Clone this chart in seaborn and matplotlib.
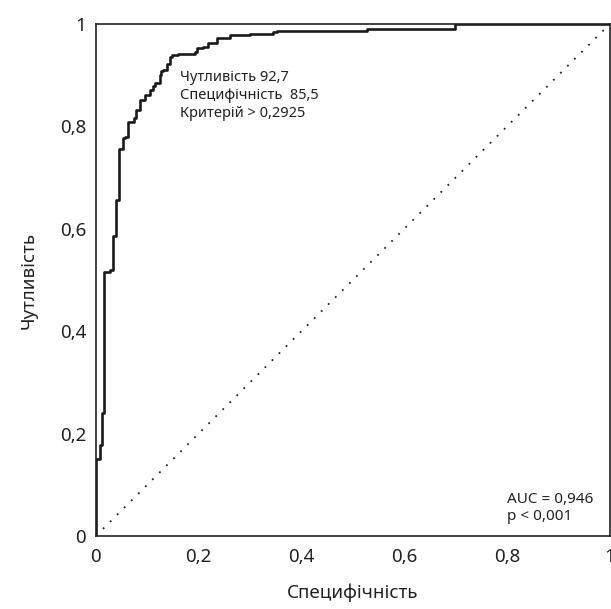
import matplotlib
matplotlib.use("Agg")
import matplotlib.pyplot as plt
import seaborn as sns
import pandas as pd

# ROC curve (x = 1 - specificity, y = sensitivity)
fpr = [0.000, 0.000, 0.008, 0.008, 0.012, 0.012, 0.016, 0.016, 0.027, 0.033,
       0.035, 0.039, 0.040, 0.045, 0.045, 0.053, 0.056, 0.062, 0.062, 0.074,
       0.078, 0.078, 0.086, 0.086, 0.095, 0.105, 0.111, 0.115, 0.125, 0.126,
       0.130, 0.138, 0.144, 0.148, 0.160, 0.193, 0.196, 0.208, 0.218, 0.235,
       0.261, 0.300, 0.344, 0.352, 0.527, 0.531, 0.698, 0.708, 1.000]
tpr = [0.000, 0.150, 0.150, 0.178, 0.178, 0.240, 0.240, 0.512, 0.516, 0.520,
       0.586, 0.586, 0.652, 0.656, 0.750, 0.756, 0.777, 0.779, 0.789, 0.809,
       0.816, 0.826, 0.832, 0.842, 0.852, 0.861, 0.871, 0.879, 0.885, 0.900,
       0.908, 0.910, 0.922, 0.936, 0.939, 0.941, 0.945, 0.953, 0.955, 0.963,
       0.973, 0.979, 0.980, 0.984, 0.986, 0.990, 0.990, 1.000, 1.000]

ticks = [0, 0.2, 0.4, 0.6, 0.8, 1]
tick_labels = ["0", "0,2", "0,4", "0,6", "0,8", "1"]

cut_lines = ["Чутливість 92,7", "Специфічність  85,5", "Критерій > 0,2925"]
auc_lines = ["AUC = 0,946", "p < 0,001"]

sns.set_theme(style="white")
plt.rcParams['font.family'] = ['Noto Sans', 'DejaVu Sans']

fig = plt.figure(figsize=(6.11, 6.09), dpi=100)
ax = fig.add_axes([0.157, 0.12, 0.841, 0.8406])

df = pd.DataFrame({"fpr": fpr, "tpr": tpr})
# ROC curve is a staircase: rise first, then run
sns.lineplot(data=df, x="fpr", y="tpr", sort=False, estimator=None,
             color="#1a1a1a", linewidth=1.9, drawstyle="steps-pre", ax=ax)
ax.plot([0, 1], [0, 1], color="#222222", linewidth=1.3,
        linestyle=(0, (1, 4.5)))

ax.set_xlim(0, 1)
ax.set_ylim(0, 1)
ax.set_xticks(ticks)
ax.set_xticklabels(tick_labels)
ax.set_yticks(ticks)
ax.set_yticklabels(tick_labels)
ax.tick_params(axis="x", direction="inout", length=6, width=1,
               labelsize=13.5, pad=6, colors="#222222")
ax.tick_params(axis="y", direction="out", length=4, width=1,
               labelsize=13.5, pad=3, colors="#222222")
for s in ax.spines.values():
    s.set_color("#222222")
    s.set_linewidth(1.2)

ax.set_xlabel("Специфічність", fontsize=13.5, labelpad=12, color="#222222")
ax.set_ylabel("Чутливість", fontsize=13.5, labelpad=16, color="#222222")

for i, t in enumerate(cut_lines):
    ax.text(0.163, 0.896 - i * 0.035, t, fontsize=10.5, va="center",
            color="#222222")
for i, t in enumerate(auc_lines):
    ax.text(0.80, 0.072 - i * 0.035, t, fontsize=11, va="center",
            color="#222222")

fig.savefig("out.png", dpi=100)
